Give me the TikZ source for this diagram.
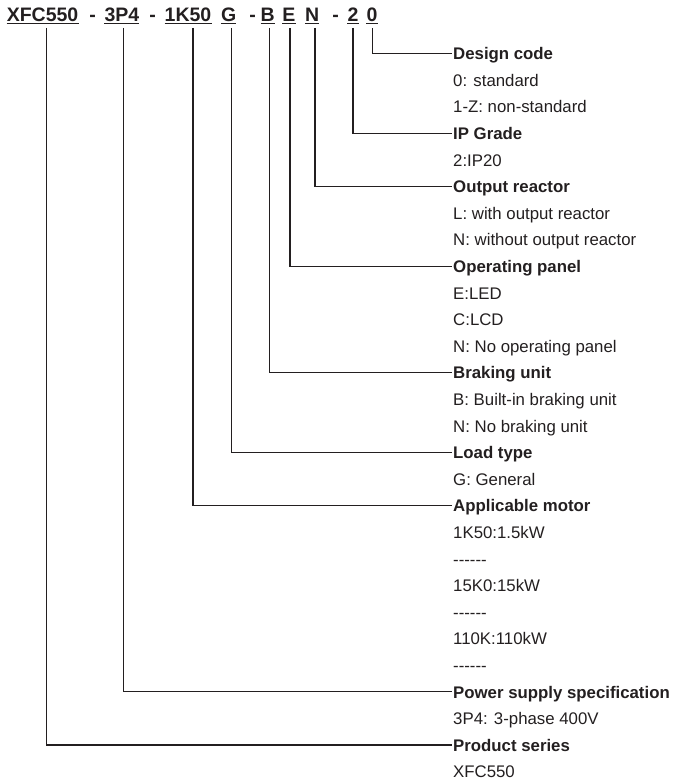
\documentclass[tikz,border=0pt]{standalone}
\usepackage{fontspec}
\setmainfont{Liberation Sans}
\definecolor{ink}{HTML}{231F20}
\newcommand{\sixdash}{\mbox{-}\mbox{-}\mbox{-}\mbox{-}\mbox{-}\mbox{-}}
\begin{document}
\begin{tikzpicture}[x=1pt,y=1pt,
  hdr/.style={font=\fontsize{19.5}{22}\selectfont\bfseries, inner sep=0pt, anchor=base west, text=ink},
  ttl/.style={font=\fontsize{16.8}{19}\selectfont\bfseries, inner sep=0pt, anchor=base west, text=ink},
  itm/.style={font=\fontsize{16.8}{19}\selectfont, inner sep=0pt, anchor=base west, text=ink},
  conn/.style={draw=ink, line width=1.3pt},
  ul/.style={draw=ink, line width=1.4pt}]
\useasboundingbox (0,0) rectangle (676,-781);

% header tokens
\node[hdr] (hx) at (6.6,-21.5) {XFC550};
\node[hdr] (m1) at (89.2,-21.5) {-};
\node[hdr] (hp) at (104.3,-21.5) {3P4};
\node[hdr] (m2) at (149.2,-21.5) {-};
\node[hdr] (hm) at (164.5,-21.5) {1K50};
\node[hdr] (hg) at (220.8,-21.5) {G};
\node[hdr] (m3) at (249.2,-21.5) {-};
\node[hdr] (hb) at (260.5,-21.5) {B};
\node[hdr] (he) at (282.2,-21.5) {E};
\node[hdr] (hn) at (304.8,-21.5) {N};
\node[hdr] (m4) at (332.2,-21.5) {-};
\node[hdr] (h2) at (347.3,-21.5) {2};
\node[hdr] (h0) at (366.3,-21.5) {0};
\foreach \n in {hx,hp,hm,hg,hb,he,hn,h2,h0}
  \draw[ul] ([yshift=-2.2pt]\n.base west) -- ([yshift=-2.2pt]\n.base east);

% right-hand column
\node[ttl] (t0) at (453,{-59.7-26.6*0}) {Design code};
\node[itm] (i1) at (453,{-59.7-26.6*1}) {0: standard};
\node[itm] (i2) at (453,{-59.7-26.6*2}) {1-Z: non-standard};
\node[ttl] (t1) at (453,{-59.7-26.6*3}) {IP Grade};
\node[itm] (i4) at (453,{-59.7-26.6*4}) {2:IP20};
\node[ttl] (t2) at (453,{-59.7-26.6*5}) {Output reactor};
\node[itm] (i6) at (453,{-59.7-26.6*6}) {L: with output reactor};
\node[itm] (i7) at (453,{-59.7-26.6*7}) {N: without output reactor};
\node[ttl] (t3) at (453,{-59.7-26.6*8}) {Operating panel};
\node[itm] (i9) at (453,{-59.7-26.6*9}) {E:LED};
\node[itm] (i10) at (453,{-59.7-26.6*10}) {C:LCD};
\node[itm] (i11) at (453,{-59.7-26.6*11}) {N: No operating panel};
\node[ttl] (t4) at (453,{-59.7-26.6*12}) {Braking unit};
\node[itm] (i13) at (453,{-59.7-26.6*13}) {B: Built-in braking unit};
\node[itm] (i14) at (453,{-59.7-26.6*14}) {N: No braking unit};
\node[ttl] (t5) at (453,{-59.7-26.6*15}) {Load type};
\node[itm] (i16) at (453,{-59.7-26.6*16}) {G: General};
\node[ttl] (t6) at (453,{-59.7-26.6*17}) {Applicable motor};
\node[itm] (i18) at (453,{-59.7-26.6*18}) {1K50:1.5kW};
\node[itm] (i19) at (453,{-59.7-26.6*19}) {\sixdash};
\node[itm] (i20) at (453,{-59.7-26.6*20}) {15K0:15kW};
\node[itm] (i21) at (453,{-59.7-26.6*21}) {\sixdash};
\node[itm] (i22) at (453,{-59.7-26.6*22}) {110K:110kW};
\node[itm] (i23) at (453,{-59.7-26.6*23}) {\sixdash};
\node[ttl] (t7) at (453,{-59.7-26.6*24}) {Power supply specification};
\node[itm] (i25) at (453,{-59.7-26.6*25}) {3P4: 3-phase 400V};
\node[ttl] (t8) at (453,{-59.7-26.6*26}) {Product series};
\node[itm] (i27) at (453,{-59.7-26.6*27}) {XFC550};

% connector start points under the header codes
\coordinate (v0) at (372.5,-28);
\coordinate (v1) at (353,-28);
\coordinate (v2) at (315,-28);
\coordinate (v3) at (290,-28);
\coordinate (v4) at (269.5,-28);
\coordinate (v5) at (231.5,-28);
\coordinate (v6) at (193,-28);
\coordinate (v7) at (123.3,-28);
\coordinate (v8) at (46.7,-28);

\foreach \v/\t in {v0/t0,v1/t1,v2/t2,v3/t3,v4/t4,v5/t5,v6/t6,v7/t7,v8/t8}
  \draw[conn] (\v) |- ([shift={(-1.5pt,6.3pt)}]\t.base west);
\end{tikzpicture}
\end{document}
